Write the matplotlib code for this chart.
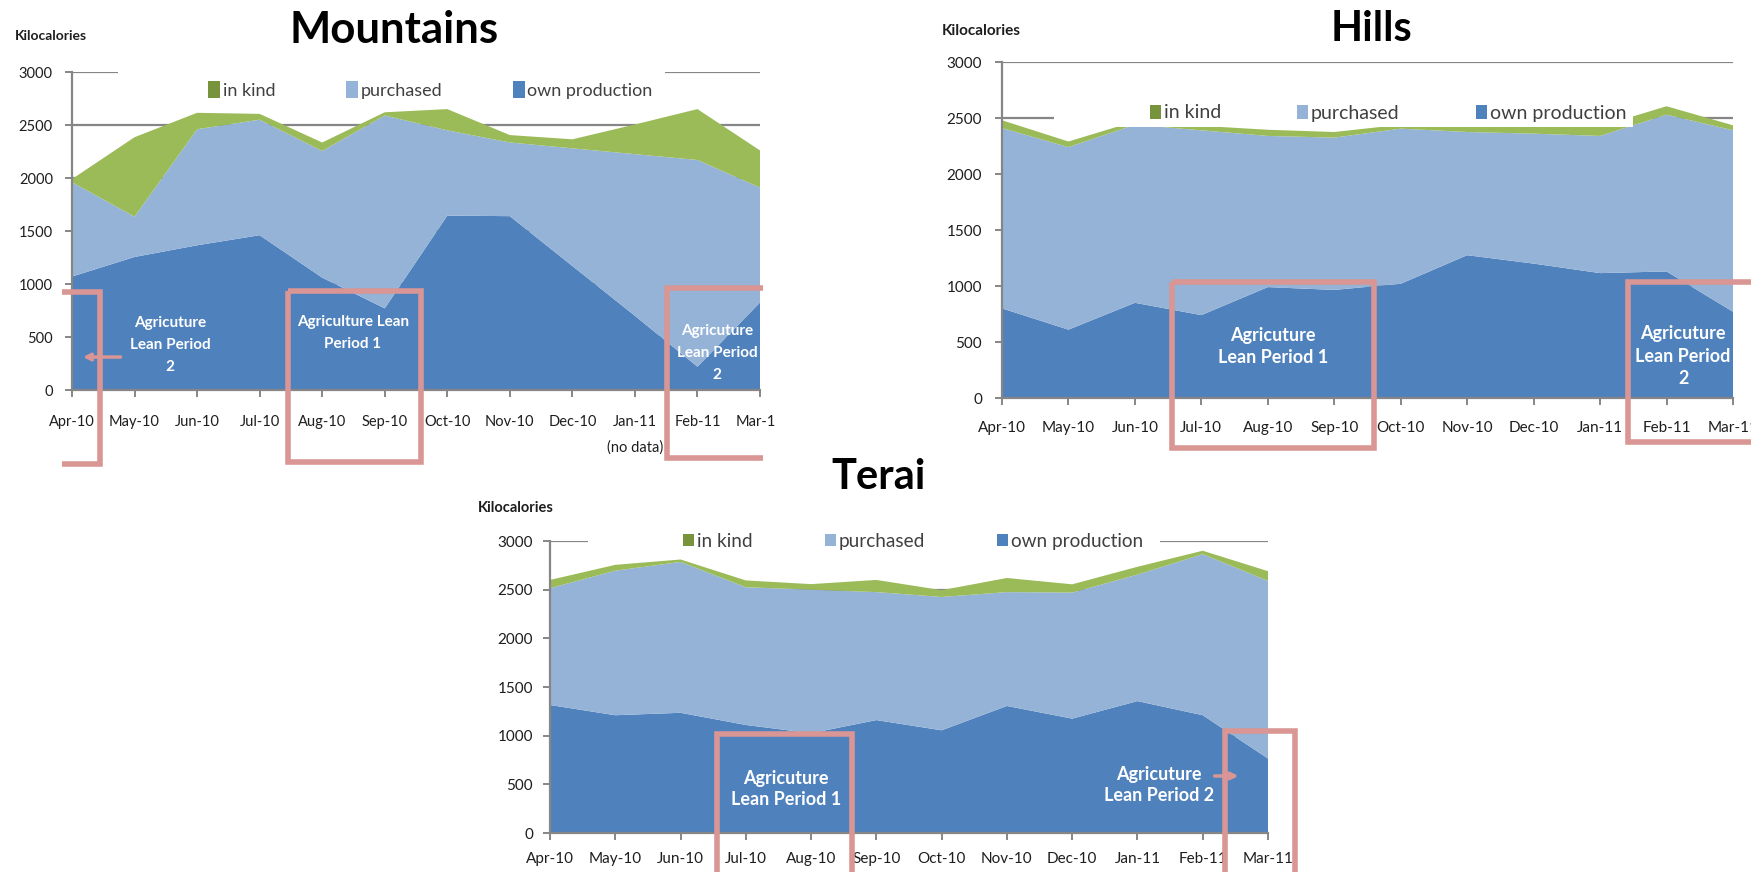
import numpy as np
import matplotlib
matplotlib.use("Agg")
import matplotlib.pyplot as plt
from matplotlib.patches import Patch, Rectangle
from matplotlib.transforms import Bbox, TransformedBbox

W, H = 1751, 872

MONTHS = ["Apr-10", "May-10", "Jun-10", "Jul-10", "Aug-10", "Sep-10",
          "Oct-10", "Nov-10", "Dec-10", "Jan-11", "Feb-11", "Mar-11"]
SOURCES = ["in kind", "purchased", "own production"]

# kilocalories per person per day, split by food source
MOUNTAINS_OWN = [1070, 1255, 1365, 1460, 1060, 770, 1645, 1640, 1170, 700, 220, 825]
MOUNTAINS_PURCHASED = [890, 380, 1095, 1090, 1195, 1820, 805, 695, 1110, 1525, 1950, 1085]
MOUNTAINS_INKIND = [30, 750, 155, 55, 80, 30, 200, 70, 85, 280, 480, 350]

HILLS_OWN = [800, 610, 850, 740, 990, 965, 1020, 1275, 1200, 1115, 1130, 770]
HILLS_PURCHASED = [1610, 1630, 1590, 1650, 1350, 1360, 1385, 1100, 1160, 1225, 1400, 1620]
HILLS_INKIND = [70, 50, 30, 40, 55, 50, 35, 50, 60, 85, 75, 45]

TERAI_OWN = [1315, 1210, 1235, 1110, 1025, 1160, 1055, 1305, 1175, 1355, 1210, 765]
TERAI_PURCHASED = [1200, 1485, 1550, 1415, 1475, 1315, 1370, 1170, 1295, 1300, 1655, 1825]
TERAI_INKIND = [85, 60, 25, 70, 57, 125, 70, 145, 85, 80, 35, 100]

OWN_C = "#4F81BD"
PURCH_C = "#95B3D7"
KIND_C = "#9BBB59"
KIND_KEY = "#77933C"
GRID_C = "#868686"
BOX_C = "#D99694"
TEXT_C = "#1E1E1E"

plt.rcParams["font.family"] = ["Lato", "DejaVu Sans"]

fig = plt.figure(figsize=(W / 100, H / 100), dpi=100)


def fx(px):
    return px / W


def fy(py):
    return 1 - py / H


def panel(left, top, right, bottom, own, purchased, inkind, size, padx, pady):
    ax = fig.add_axes([fx(left), fy(bottom), fx(right - left), (bottom - top) / H])
    x = np.arange(len(MONTHS))
    ax.stackplot(x, own, purchased, inkind, colors=[OWN_C, PURCH_C, KIND_C],
                 linewidth=0, zorder=1)
    ax.set_xlim(0, len(MONTHS) - 1)
    ax.set_ylim(0, 3000)
    ax.set_yticks(range(0, 3001, 500))
    ax.set_xticks(x)
    ax.set_xticklabels(MONTHS)
    ax.set_axisbelow(True)
    ax.yaxis.grid(True, color=GRID_C, linewidth=1.6)
    ax.patch.set_alpha(0)
    for s in ["top", "right"]:
        ax.spines[s].set_visible(False)
    for s in ["left", "bottom"]:
        ax.spines[s].set_color(GRID_C)
        ax.spines[s].set_linewidth(1.6)
    ax.tick_params(direction="out", length=4.8, width=1.4, color=GRID_C,
                   labelsize=size, labelcolor=TEXT_C)
    ax.tick_params(axis="x", pad=padx)
    ax.tick_params(axis="y", pad=pady)
    return ax


def key(ax, x0, yc, size, hl, hh, colsp, bg):
    bx0, by0, bx1, by1 = bg
    ax.add_patch(Rectangle((fx(bx0), fy(by1)), fx(bx1 - bx0), (by1 - by0) / H,
                           transform=fig.transFigure, facecolor="white",
                           edgecolor="none", zorder=3, clip_on=False))
    handles = [Patch(facecolor=c, edgecolor="none") for c in [KIND_KEY, PURCH_C, OWN_C]]
    leg = ax.legend(handles, SOURCES, ncol=3, loc="center left",
                    bbox_to_anchor=(fx(x0), fy(yc)), bbox_transform=fig.transFigure,
                    frameon=False, fontsize=size, handlelength=hl, handleheight=hh,
                    handletextpad=0.15, columnspacing=colsp, borderpad=0,
                    borderaxespad=0, labelcolor="#404040")
    leg.set_zorder(4)


def frame(ax, xs, ys):
    ax.plot(xs, ys, color=BOX_C, linewidth=4, clip_on=False, zorder=5,
            solid_joinstyle="miter", solid_capstyle="butt")


def note(ax, x, y, s, size, spacing):
    ax.text(x, y, s, color="white", ha="center", va="center", fontsize=size,
            fontweight="bold", linespacing=spacing, zorder=6)


def arrow(ax, x0, x1, y):
    ax.annotate("", xy=(x1, y), xytext=(x0, y), annotation_clip=False, zorder=6,
                arrowprops=dict(arrowstyle="->", color=BOX_C, lw=2.5))


def heading(px, py, s, size=30):
    fig.text(fx(px), fy(py), s, ha="center", va="baseline", fontsize=size,
             fontweight="bold", color="black")


def unit(px, py, size):
    fig.text(fx(px), fy(py), "Kilocalories", ha="left", va="baseline",
             fontsize=size, fontweight="bold", color=TEXT_C)


# ── Mountains ────────────────────────────────────────────────────────────────
ax_m = panel(72, 72, 760, 390, MOUNTAINS_OWN, MOUNTAINS_PURCHASED, MOUNTAINS_INKIND,
             10.5, 13, 9)
key(ax_m, 208, 90, 13, 0.67, 1.1, 3.9, (118, 62, 665, 106))
heading(394, 43, "Mountains", 31.5)
unit(15, 40, 10)
ax_m.text(9, -0.18, "(no data)", transform=ax_m.get_xaxis_transform(),
          ha="center", va="center", fontsize=10.5, color=TEXT_C)
mar_label = ax_m.xaxis.get_major_ticks()[-1].label1
mar_label.set_clip_box(TransformedBbox(Bbox([[0, 0], [fx(776), 1]]), fig.transFigure))
mar_label.set_clip_on(True)

frame(ax_m, [-0.16, 0.45, 0.45, -0.16], [925, 925, -700, -700])
frame(ax_m, [3.45, 5.58, 5.58, 3.45, 3.45], [930, 930, -675, -675, 930])
frame(ax_m, [11.05, 9.51, 9.51, 11.05], [960, 960, -640, -640])
note(ax_m, 1.57, 425, "Agricuture\nLean Period\n2", 11, 1.75)
note(ax_m, 4.49, 535, "Agriculture Lean\nPeriod 1", 11, 1.75)
note(ax_m, 10.31, 350, "Agricuture\nLean Period\n2", 11, 1.75)
arrow(ax_m, 0.82, 0.13, 311)

# ── Hills ────────────────────────────────────────────────────────────────────
ax_h = panel(1002, 62, 1733, 398, HILLS_OWN, HILLS_PURCHASED, HILLS_INKIND,
             11, 11.7, 9.6)
key(ax_h, 1150, 113, 14, 0.57, 0.73, 3.9, (1054, 96, 1633, 127))
heading(1371, 41, "Hills")
unit(942, 35, 11)

frame(ax_h, [2.56, 5.60, 5.60, 2.56, 2.56], [1035, 1035, -450, -450, 1035])
frame(ax_h, [11.4, 9.42, 9.42, 11.4], [1035, 1035, -395, -395])
note(ax_h, 4.08, 460, "Agricuture\nLean Period 1", 13, 1.4)
note(ax_h, 10.25, 375, "Agricuture\nLean Period\n2", 13, 1.4)

# ── Terai ────────────────────────────────────────────────────────────────────
ax_t = panel(550, 541, 1268, 833, TERAI_OWN, TERAI_PURCHASED, TERAI_INKIND,
             11, 9.1, 7.4)
key(ax_t, 683, 541, 13.7, 0.58, 0.63, 3.8, (588, 528, 1160, 555))
heading(879, 489, "Terai")
unit(478, 512, 10.5)

frame(ax_t, [2.56, 2.56, 4.63, 4.63], [-500, 1015, 1015, -500])
frame(ax_t, [10.34, 10.34, 11.41, 11.41], [-500, 1045, 1045, -500])
note(ax_t, 3.62, 452, "Agricuture\nLean Period 1", 13, 1.28)
note(ax_t, 9.33, 493, "Agricuture\nLean Period 2", 13, 1.28)
arrow(ax_t, 10.14, 10.59, 586)

fig.savefig("out.png", dpi=100)
